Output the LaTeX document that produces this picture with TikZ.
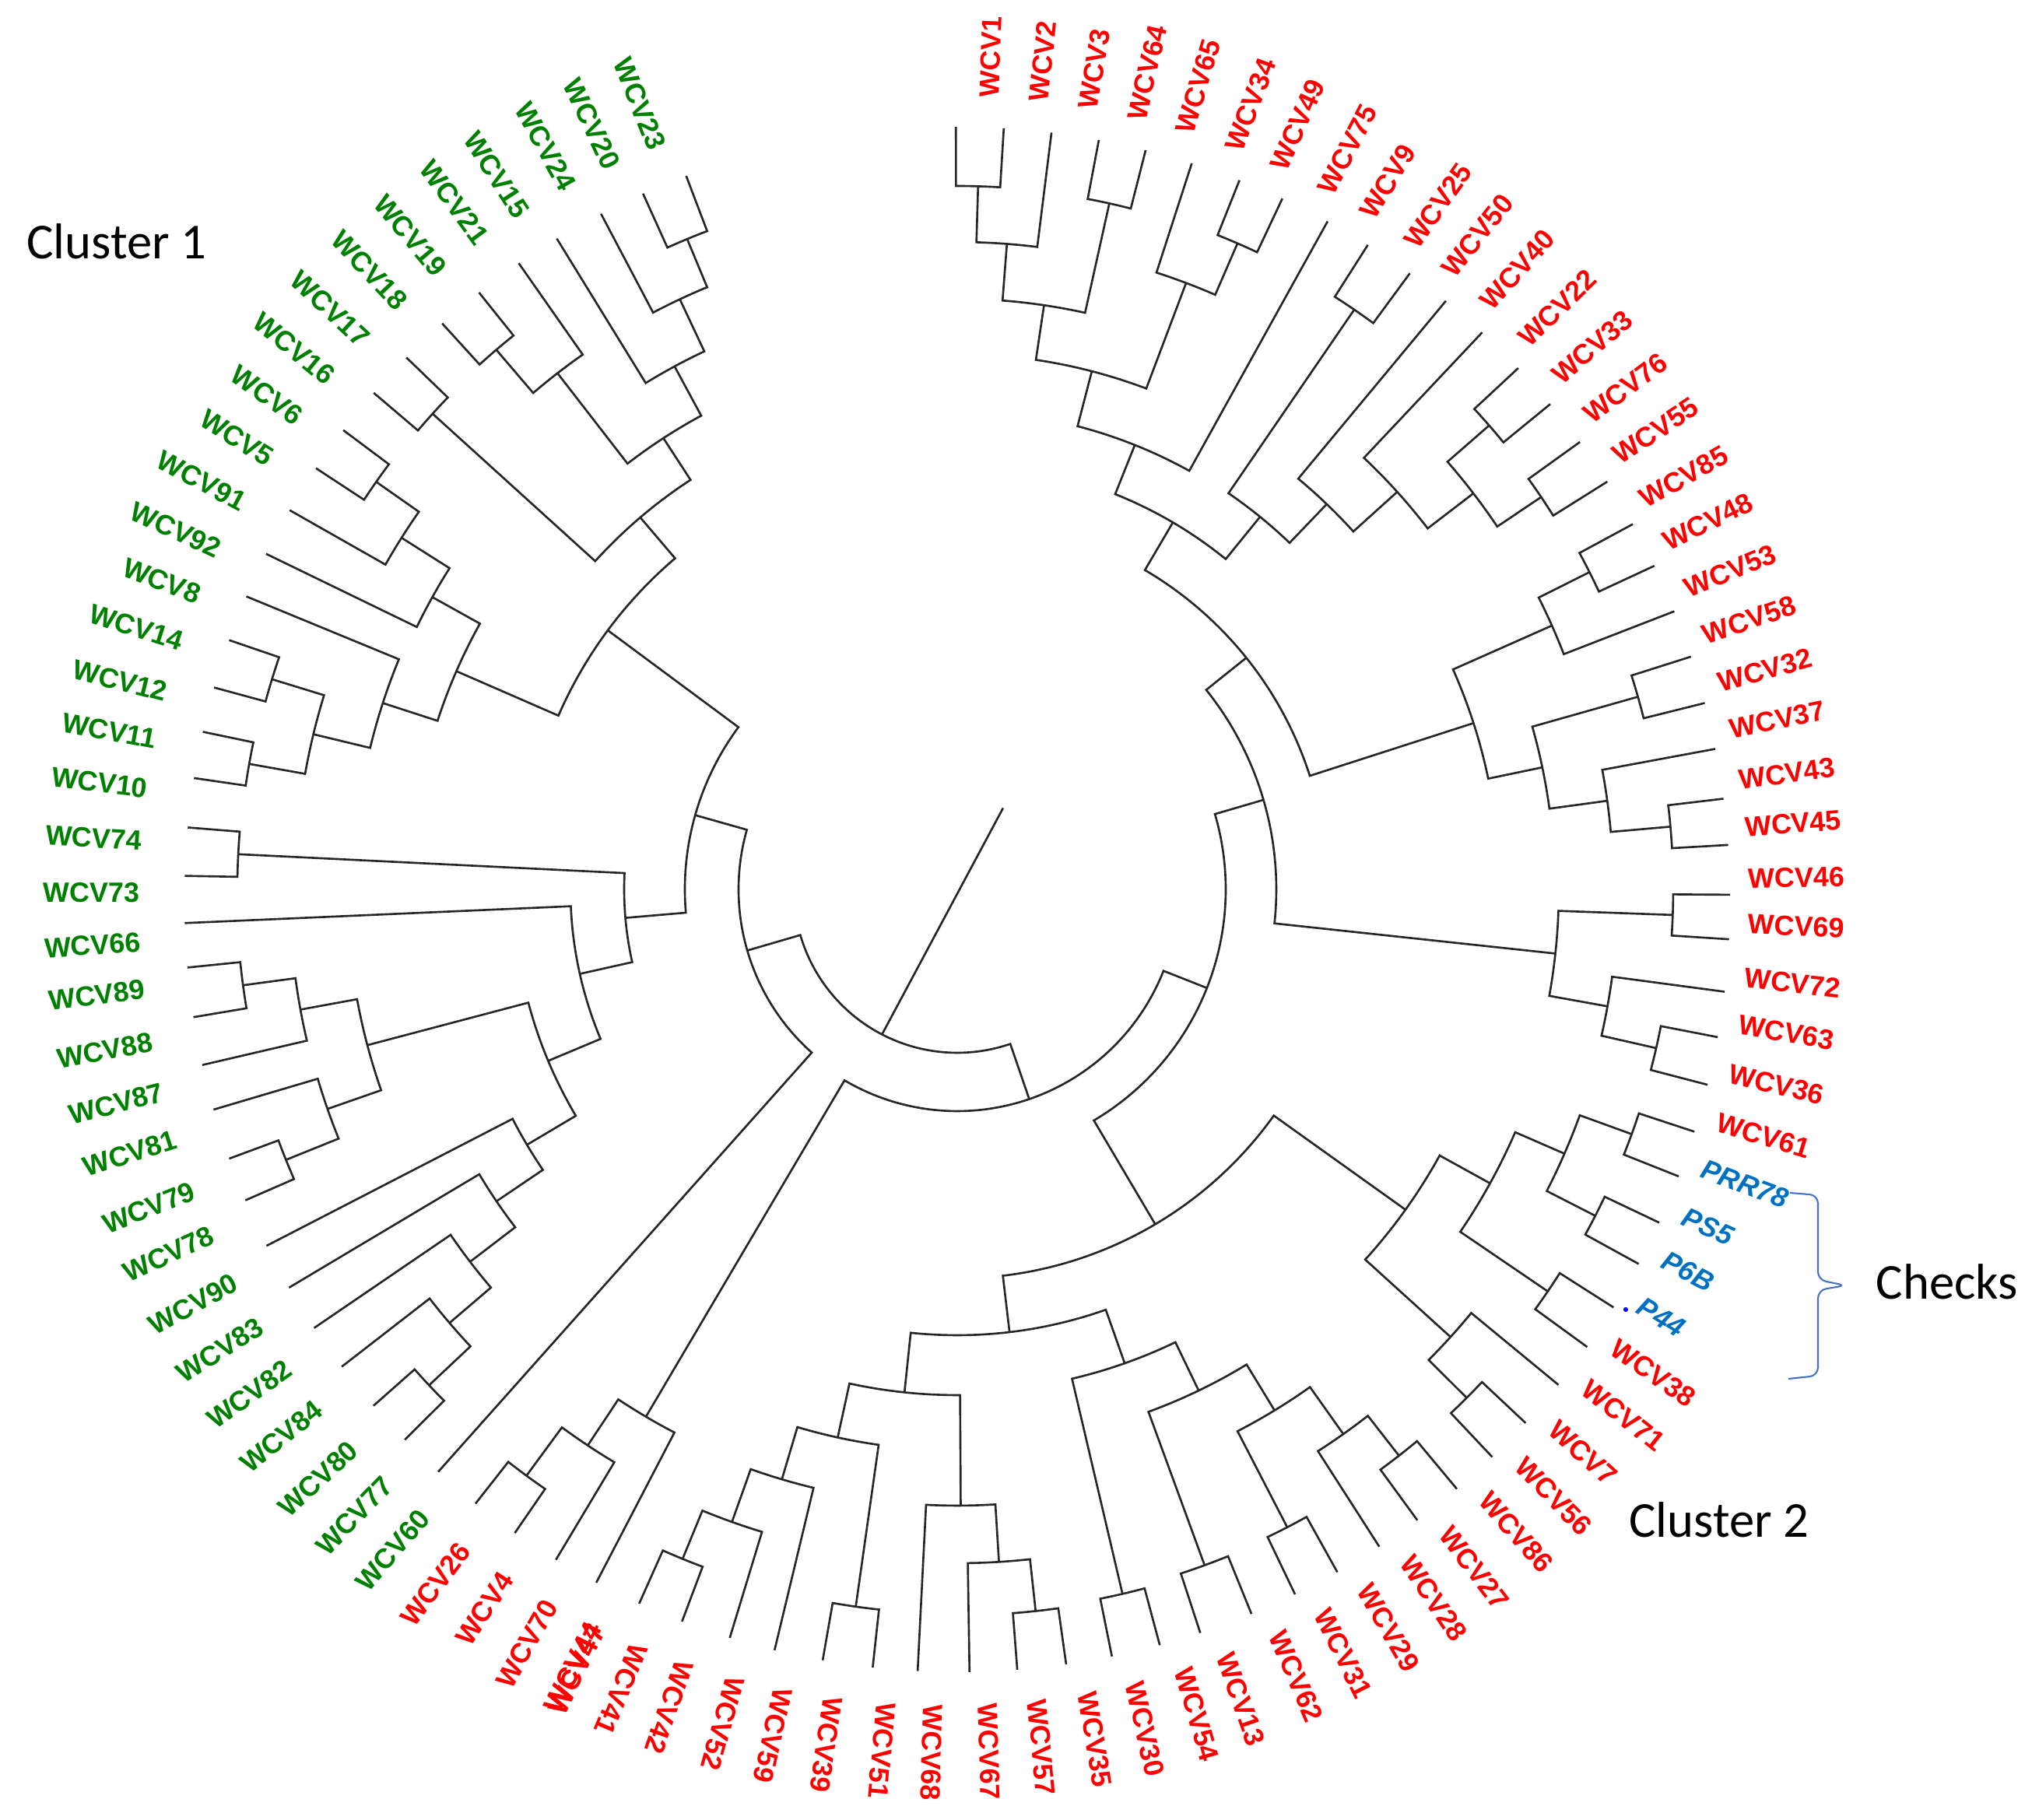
\documentclass[tikz,border=0pt]{standalone}
\usepackage{fontspec}
\setmainfont{Liberation Sans}
\newfontfamily\calib{Carlito}
\definecolor{wcvred}{RGB}{255,0,0}
\definecolor{wcvgreen}{RGB}{0,128,0}
\definecolor{checkblue}{RGB}{0,112,192}
\definecolor{braceblue}{RGB}{68,114,196}

% tip angles, clockwise from the top
\def\placeTips{%
\foreach \a [count=\k] in {90.1,86.5,82.9,79.3,75.7,72.1,68.3,64.8,61.0,57.5,53.7,50.3,46.7,42.9,39.3,35.7,32.1,28.4,24.9,21.2,17.6,14.0,10.5,6.75,3.3,-0.4,-3.7,-7.6,-11.0,-14.6,-18.2,-21.7,-25.4,-28.8,-32.5,-36.0,-39.5,-43.2,-46.7,-50.2,-53.9,-57.3,-60.9,-64.4,-67.9,-71.9,-75.0,-78.6,-82.0,-85.6,-89.1,-92.9,-96.2,-99.9,-103.5,-106.9,-110.6,-114.0,-117.5,-120.9,-124.5,-128.1,-131.7,-135.1,-138.5,-142.2,-145.7,-149.2,-152.7,-156.4,-159.7,-163.5,-166.9,-170.5,-174.2,-177.5,-181.0,-184.6,-188.3,-191.8,-195.2,-198.9,-202.4,-205.9,-209.6,-213.3,-216.8,-220.4,-224.0,-227.7,-231.3,-235.0,-238.4,-242.2,-245.7,-249.2}{%
  \pgfmathsetmacro\tipR{9.93-0.13*sin(\a)}%
  \expandafter\xdef\csname angt\k\endcsname{\a}%
  \expandafter\xdef\csname radt\k\endcsname{\tipR}%
}}

% one clade: name, radius, first child, second child
\newcommand\clade[4]{%
  \edef\angA{\csname ang#3\endcsname}%
  \edef\angB{\csname ang#4\endcsname}%
  \edef\radA{\csname rad#3\endcsname}%
  \edef\radB{\csname rad#4\endcsname}%
  \pgfmathsetmacro\angM{(\angA+\angB)/2}%
  \expandafter\xdef\csname ang#1\endcsname{\angM}%
  \expandafter\xdef\csname rad#1\endcsname{#2}%
  \draw[branch] (\angA:\radA) -- (\angA:#2) arc[start angle=\angA, end angle=\angB, radius=#2] -- (\angB:\radB);
}

\begin{document}
\begin{tikzpicture}

% styles
\tikzstyle{branch}=[draw=black!85, line width=0.75pt]
\tikzstyle{leafText}=[inner sep=0pt, font=\fontsize{10.2}{12}\selectfont\bfseries]
\tikzstyle{checkText}=[inner sep=0pt, font=\fontsize{10.2}{12}\selectfont\bfseries\itshape]
\tikzstyle{clusterText}=[inner sep=0pt, text=black, font=\calib\fontsize{18.4}{22}\selectfont]
\tikzstyle{braceLine}=[draw=braceblue, line width=0.6pt, rounded corners=3pt]

\useasboundingbox (-12.30,-11.96) rectangle (13.81,11.43);

\placeTips

% cluster 2, top right
\clade{nI}{9.04}{t1}{t2}
\clade{nH}{8.32}{nI}{t3}
\clade{nJ}{9.03}{t4}{t5}
\clade{nG}{7.59}{nH}{nJ}
\clade{nL}{9.05}{t7}{t8}
\clade{nK}{8.33}{t6}{nL}
\clade{nF}{6.88}{nG}{nK}
\clade{nE}{6.15}{nF}{t9}
\clade{nN}{9.03}{t10}{t11}
\clade{nR}{9.07}{t14}{t15}
\clade{nS}{9.04}{t16}{t17}
\clade{nQ}{8.36}{nR}{nS}
\clade{nP}{7.62}{t13}{nQ}
\clade{nO}{6.86}{t12}{nP}
\clade{nM}{6.17}{nN}{nO}
\clade{nD}{5.47}{nE}{nM}
\clade{nW}{9.09}{t18}{t19}
\clade{nU}{8.36}{nW}{t20}
\clade{nX}{9.09}{t21}{t22}
\clade{nZ}{9.20}{t24}{t25}
\clade{nY}{8.43}{t23}{nZ}
\clade{nV}{7.68}{nX}{nY}
\clade{nT}{6.97}{nU}{nV}
\clade{nCa}{4.76}{nD}{nT}
\clade{nAA}{9.20}{t26}{t27}
\clade{nAC}{9.21}{t29}{t30}
\clade{nAB}{8.49}{t28}{nAC}
\clade{nCb}{7.73}{nAA}{nAB}
\clade{nC}{4.10}{nCa}{nCb}

% cluster 2, bottom right
\clade{nAH}{9.22}{t31}{t32}
\clade{nAI}{9.21}{t33}{t34}
\clade{nAF}{8.51}{nAH}{nAI}
\clade{nAG}{9.18}{t35}{t36}
\clade{nAD}{7.82}{nAF}{nAG}
\clade{nAJ}{9.25}{t38}{t39}
\clade{nAE}{8.56}{t37}{nAJ}
\clade{nDa}{7.08}{nAD}{nAE}
\clade{nAQ}{9.23}{t40}{t41}
\clade{nAP}{8.58}{nAQ}{t42}
\clade{nAO}{9.23}{t43}{t44}
\clade{nAN}{7.84}{nAP}{nAO}
\clade{nAM}{9.25}{t45}{t46}
\clade{nAL}{7.15}{nAN}{nAM}
\clade{nAK}{9.30}{t47}{t48}
\clade{nDb}{6.46}{nAL}{nAK}
\clade{nAU}{9.33}{t49}{t50}
\clade{nAT}{8.66}{nAU}{t51}
\clade{nAR}{7.92}{nAT}{t52}
\clade{nAW}{9.31}{t53}{t54}
\clade{nBA}{9.30}{t57}{t58}
\clade{nAZ}{8.63}{t56}{nBA}
\clade{nAX}{7.91}{t55}{nAZ}
\clade{nAV}{7.21}{nAW}{nAX}
\clade{nDc}{6.50}{nAR}{nAV}
\clade{nDd}{5.73}{nDb}{nDc}
\clade{nDe}{5.00}{nDa}{nDd}
\clade{nB2}{3.45}{nC}{nDe}
\clade{nBB}{9.35}{t61}{t62}
\clade{nB1a}{8.58}{t60}{nBB}
\clade{nB1}{7.87}{t59}{nB1a}
\clade{nB}{2.85}{nB2}{nB1}

% cluster 1
\clade{nBN}{9.31}{t64}{t65}
\clade{nBM}{8.58}{nBN}{t66}
\clade{nBL}{7.88}{nBM}{t67}
\clade{nBK}{7.15}{nBL}{t68}
\clade{nBE}{6.43}{nBK}{t69}
\clade{nBJ}{9.30}{t70}{t71}
\clade{nBG}{8.57}{nBJ}{t72}
\clade{nBI}{9.26}{t74}{t75}
\clade{nBH}{8.58}{t73}{nBI}
\clade{nBF}{7.84}{nBG}{nBH}
\clade{nBD}{5.70}{nBE}{nBF}
\clade{nEa}{4.97}{nBD}{t76}
\clade{nBC}{9.25}{t77}{t78}
\clade{nEb}{4.28}{nEa}{nBC}
\clade{nBT}{9.24}{t79}{t80}
\clade{nBU}{9.21}{t81}{t82}
\clade{nBS}{8.51}{nBT}{nBU}
\clade{nBQ}{7.76}{nBS}{t83}
\clade{nBW}{9.12}{t86}{t87}
\clade{nBV}{8.45}{t85}{nBW}
\clade{nBR}{7.72}{t84}{nBV}
\clade{nBP}{7.02}{nBQ}{nBR}
\clade{nBX}{9.10}{t88}{t89}
\clade{nCB}{9.12}{t90}{t91}
\clade{nBZ}{8.39}{nCB}{t92}
\clade{nCC}{9.05}{t95}{t96}
\clade{nCD}{8.38}{t94}{nCC}
\clade{nCE}{7.64}{t93}{nCD}
\clade{nBY}{6.92}{nBZ}{nCE}
\clade{nBO}{6.28}{nBX}{nBY}
\clade{nEc}{5.59}{nBP}{nBO}
\clade{nEd}{3.50}{nEb}{nEc}
\clade{nK1}{2.81}{t63}{nEd}

% root
\clade{root}{2.10}{nB}{nK1}
\pgfmathsetmacro\stubA{\angroot+178}
\draw[branch] (\angroot:2.10) -- (\stubA:1.20);

% leaf labels
\foreach \txt [count=\i from 0] in {WCV1,WCV2,WCV3,WCV64,WCV65,WCV34,WCV49,WCV75,WCV9,WCV25,WCV50,WCV40,WCV22,WCV33,WCV76,WCV55,WCV85,WCV48,WCV53,WCV58,WCV32,WCV37,WCV43,WCV45,WCV46,WCV69,WCV72,WCV63,WCV36,WCV61,PRR78,PS5,P6B,P44,WCV38,WCV71,WCV7,WCV56,WCV86,WCV27,WCV28,WCV29,WCV31,WCV62,WCV13,WCV54,WCV30,WCV35,WCV57,WCV67,WCV68,WCV51,WCV39,WCV59,WCV52,WCV42,WCV41,WCV44,WCV70,WCV4,WCV26,WCV60,WCV77,WCV80,WCV84,WCV82,WCV83,WCV90,WCV78,WCV79,WCV81,WCV87,WCV88,WCV89,WCV66,WCV73,WCV74,WCV10,WCV11,WCV12,WCV14,WCV8,WCV92,WCV91,WCV5,WCV6,WCV16,WCV17,WCV18,WCV19,WCV21,WCV15,WCV24,WCV20,WCV23}{
  \pgfmathtruncatemacro\j{\i+2}
  \edef\tA{\csname angt\j\endcsname}
  \pgfmathsetmacro\labA{\tA+1.2}
  \pgfmathsetmacro\labR{10.33-0.17*cos(\labA)-0.14*sin(\labA)}
  \def\labC{wcvred}\def\labS{leafText}
  \ifnum\i>29 \ifnum\i<34 \def\labC{checkblue}\def\labS{checkText}\fi\fi
  \ifnum\i>60 \def\labC{wcvgreen}\fi
  \ifnum\i<57
    \node[\labS, text=\labC, anchor=west, rotate=\labA] (lab\i) at (\labA:\labR) {\txt};
  \else
    \pgfmathsetmacro\labF{\labA-180}
    \node[\labS, text=\labC, anchor=east, rotate=\labF] (lab\i) at (\labA:\labR) {\txt};
  \fi
}
% second label on the same tip
\pgfmathsetmacro\labA{\csname angt59\endcsname+1.5}
\pgfmathsetmacro\labR{10.33-0.17*cos(\labA)-0.14*sin(\labA)}
\pgfmathsetmacro\labF{\labA-180}
\node[leafText, text=wcvred, anchor=east, rotate=\labF] (labx) at (\labA:\labR) {WCV47};

% checks
\fill[blue] (8.59,-5.40) circle (0.03);
\draw[braceLine] (10.70,-3.90) -- (11.06,-3.93) -- (11.06,-5.02) -- (11.42,-5.09) -- (11.06,-5.15) -- (11.06,-6.25) -- (10.68,-6.29);

\node[clusterText] (cl1) at (-10.80,8.33) {Cluster 1};
\node[clusterText] (cl2) at (9.79,-8.10) {Cluster 2};
\node[clusterText] (chk) at (12.72,-5.04) {Checks};

\end{tikzpicture}
\end{document}
